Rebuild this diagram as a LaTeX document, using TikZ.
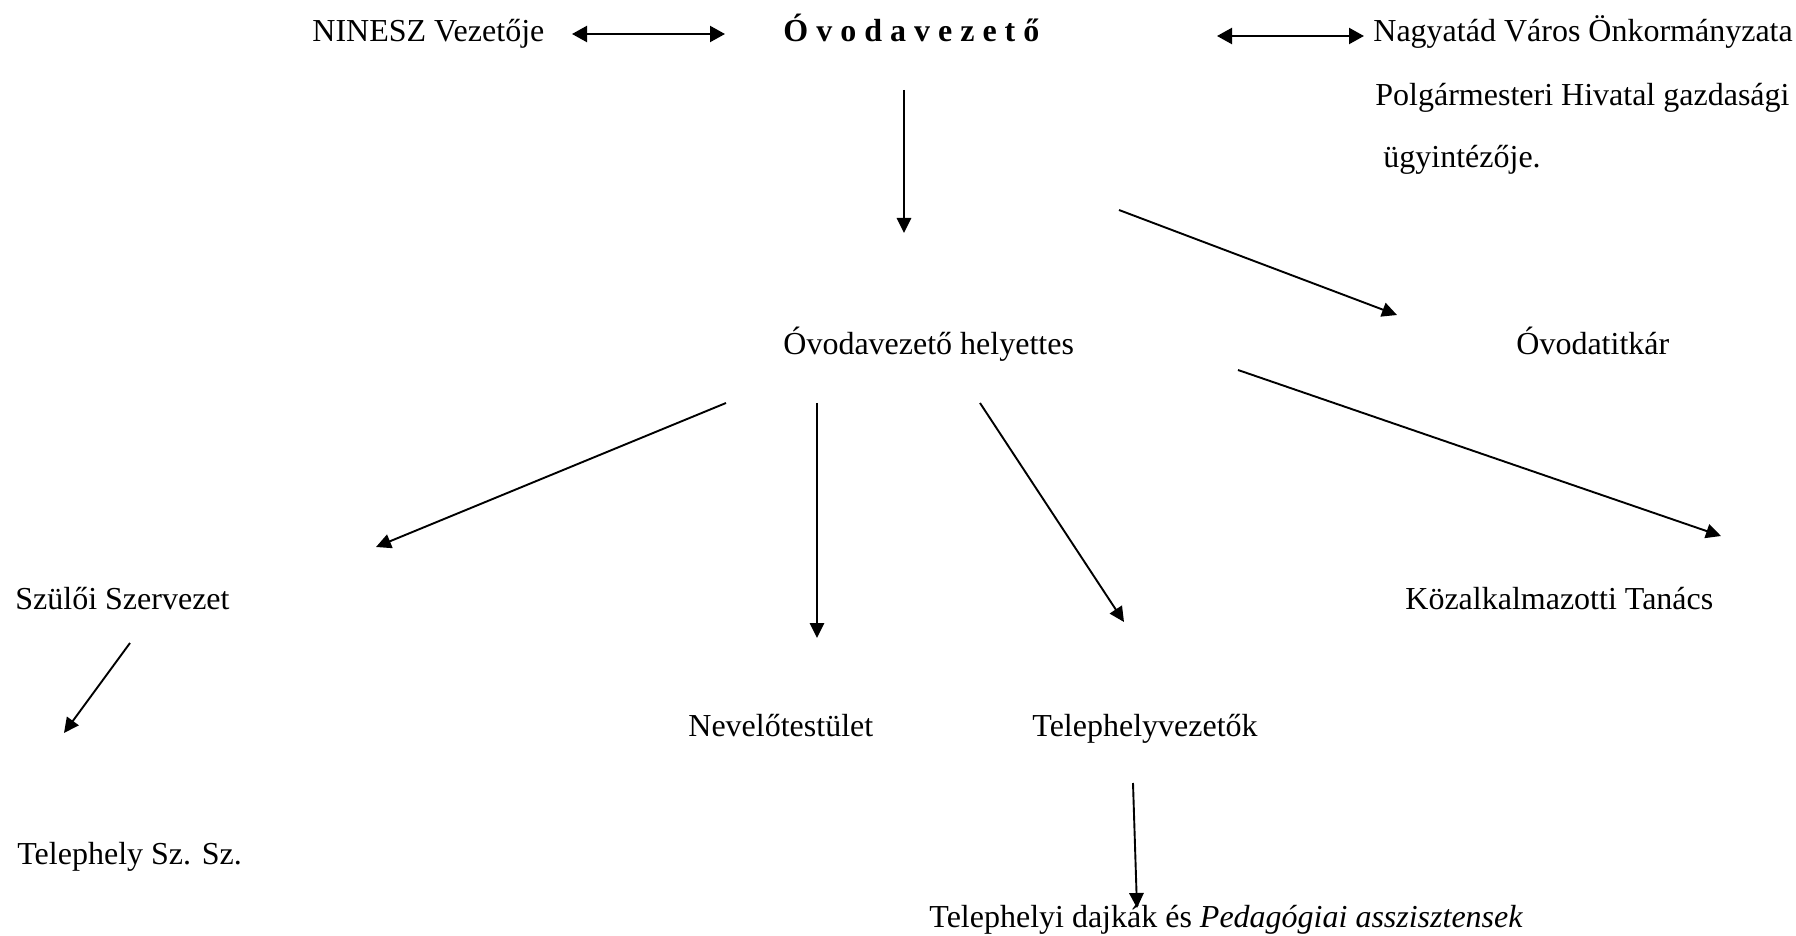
\documentclass[tikz,border=0pt]{standalone}
\usepackage{fontspec}
\setmainfont{Liberation Serif}
\usetikzlibrary{arrows.meta}
\tikzset{
  lbl/.style={anchor=base west, inner sep=0pt, font=\fontsize{16}{19}\selectfont},
  lblb/.style={lbl, font=\fontsize{16}{19}\selectfont\bfseries},
  conn/.style={line width=0.95pt, -{Triangle[length=7.5pt,width=7.2pt]}},
  dconn/.style={line width=1.1pt, {Triangle[length=7.5pt,width=8pt]}-{Triangle[length=7.5pt,width=8pt]}},
}
\begin{document}
\begin{tikzpicture}[x=0.5pt,y=-0.5pt]
\useasboundingbox[fill=white] (0,0) rectangle (1796,936);
% text nodes
\node[lbl]  (ninesz)    at (312,42)  {NINESZ Vezetője};
\node[lblb] (ovez)      at (783,42)  {Ó v o d a v e z e t ő};
\node[lbl]  (nagy)      at (1373,42) {Nagyatád Város Önkormányzata};
\node[lbl]  (polg)      at (1375,106) {Polgármesteri Hivatal gazdasági};
\node[lbl]  (ugy)       at (1383,168) {ügyintézője.};
\node[lbl]  (helyettes) at (783,355) {Óvodavezető helyettes};
\node[lbl]  (titkar)    at (1516,355) {Óvodatitkár};
\node[lbl]  (szuloi)    at (15,610)  {Szülői Szervezet};
\node[lbl]  (kozalk)    at (1405,610) {Közalkalmazotti Tanács};
\node[lbl]  (nevelo)    at (688,736) {Nevelőtestület};
\node[lbl]  (telepv)    at (1032,736) {Telephelyvezetők};
\node[lbl]  (telsz)     at (17,864)  {Telephely Sz. Sz.};
\node[lbl]  (dajkak)    at (929,927) {Telephelyi dajkák és \textit{Pedagógiai asszisztensek}};
% connector end points
\coordinate (a1s) at (572,34);   \coordinate (a1e) at (725,34);
\coordinate (a2s) at (1217,36);  \coordinate (a2e) at (1364,36);
\coordinate (a3s) at (904,90);   \coordinate (a3e) at (904,233);
\coordinate (a4s) at (1119,210); \coordinate (a4e) at (1397,315);
\coordinate (a5s) at (726,403);  \coordinate (a5e) at (376,547);
\coordinate (a6s) at (817,403);  \coordinate (a6e) at (817,638);
\coordinate (a7s) at (980,403);  \coordinate (a7e) at (1124,622);
\coordinate (a8s) at (1238,370); \coordinate (a8e) at (1721,536);
\coordinate (a9s) at (130,643);  \coordinate (a9e) at (64,733);
\coordinate (a10s) at (1133,783); \coordinate (a10e) at (1137,908);
% connectors
\draw[dconn] (a1s) -- (a1e);
\draw[dconn] (a2s) -- (a2e);
\draw[conn] (a3s) -- (a3e);
\draw[conn] (a4s) -- (a4e);
\draw[conn] (a5s) -- (a5e);
\draw[conn] (a6s) -- (a6e);
\draw[conn] (a7s) -- (a7e);
\draw[conn] (a8s) -- (a8e);
\draw[conn] (a9s) -- (a9e);
\draw[conn] (a10s) -- (a10e);
\end{tikzpicture}
\end{document}
